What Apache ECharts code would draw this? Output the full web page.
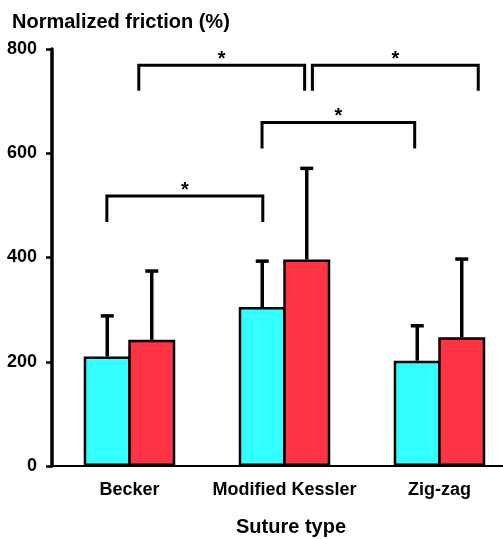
<!DOCTYPE html>
<html>
<head>
<meta charset="utf-8">
<script src="https://cdn.jsdelivr.net/npm/echarts@6/dist/echarts.min.js"></script>
<style>
  html, body { margin: 0; padding: 0; background: #fff; }
  #main { width: 503px; height: 539px; }
</style>
</head>
<body>
<div id="main"></div>
<script>
// categories and values
var categories = ['Becker', 'Modified Kessler', 'Zig-zag'];
var cyanMean = [210, 305, 202];
var cyanTop = [288, 393, 269]; // mean + SD
var redMean = [242, 396, 247];
var redTop = [374, 571, 397];
var yTicks = [0, 200, 400, 600, 800];

// significance brackets (x in category units, y in %)
var brFrom = [0.06, 0.855, -0.146, 1.18];
var brTo = [1.13, 1.84, 0.86, 2.25];
var brTop = [769, 659, 518, 769];
var brLeg = [720, 609, 468, 720];

var FONT = 'Liberation Sans, Arial, Helvetica, sans-serif';

function errData(mean, top) {
	return mean.map(function (v, i) { return [i, v, top[i]]; });
}

function errRender(offset) {
	return function (params, api) {
		var base = api.coord([api.value(0), api.value(1)]);
		var top = api.coord([api.value(0), api.value(2)]);
		var x = base[0] + offset;
		var st = { stroke: '#000', lineWidth: 3.5 };
		return {
			type: 'group',
			children: [
				{ type: 'line', shape: { x1: x, y1: base[1], x2: x, y2: top[1] }, style: st },
				{ type: 'line', shape: { x1: x - 6.5, y1: top[1], x2: x + 6.5, y2: top[1] }, style: st }
			]
		};
	};
}

var brData = brFrom.map(function (v, i) { return [v, brTo[i], brTop[i], brLeg[i]]; });

var chart = echarts.init(document.getElementById('main'));
chart.setOption({
	animation: false,
	title: [
		{ text: 'Normalized friction (%)', left: 7, top: 7,
		  textStyle: { fontFamily: FONT, fontSize: 20, fontWeight: 'bold', color: '#000' } },
		{ text: 'Suture type', left: 231, top: 512,
		  textStyle: { fontFamily: FONT, fontSize: 20, fontWeight: 'bold', color: '#000' } }
	],
	grid: { left: 52, top: 49, width: 465, height: 417, outerBoundsMode: 'none', containLabel: false },
	xAxis: [
		{
			type: 'category',
			data: categories,
			axisLine: { lineStyle: { color: '#000', width: 2 } },
			axisTick: { show: false },
			axisLabel: { interval: 0, hideOverlap: false, margin: 15, color: '#000', fontFamily: FONT, fontSize: 18, fontWeight: 'bold' }
		},
		{ type: 'value', min: -0.5, max: 2.5, show: false }
	],
	yAxis: {
		type: 'value',
		min: yTicks[0],
		max: yTicks[yTicks.length - 1],
		interval: 200,
		splitLine: { show: false },
		axisLine: { show: true, onZero: false, lineStyle: { color: '#000', width: 3.5 } },
		axisTick: { show: true, length: 6, lineStyle: { color: '#000', width: 2.5 } },
		axisLabel: { margin: 15, color: '#000', fontFamily: FONT, fontSize: 18, fontWeight: 'bold' }
	},
	series: [
		{
			type: 'custom', z: 1, xAxisIndex: 0,
			renderItem: errRender(-22.25),
			data: errData(cyanMean, cyanTop)
		},
		{
			type: 'custom', z: 1, xAxisIndex: 0,
			renderItem: errRender(22.25),
			data: errData(redMean, redTop)
		},
		{
			type: 'bar', z: 2, data: cyanMean, barWidth: 47, barGap: '-5.3%',
			itemStyle: { color: '#33ffff', borderColor: '#000', borderWidth: 2.5 }
		},
		{
			type: 'bar', z: 2, data: redMean, barWidth: 47, barGap: '-5.3%',
			itemStyle: { color: '#ff3344', borderColor: '#000', borderWidth: 2.5 }
		},
		{
			type: 'custom', z: 3, xAxisIndex: 1,
			data: brData,
			renderItem: function (params, api) {
				var a = api.coord([api.value(0), api.value(2)]);
				var b = api.coord([api.value(1), api.value(2)]);
				var leg = api.coord([api.value(0), api.value(3)]);
				return {
					type: 'group',
					children: [
						{
							type: 'polyline',
							shape: { points: [[a[0], leg[1]], [a[0], a[1]], [b[0], b[1]], [b[0], leg[1]]] },
							style: { stroke: '#000', lineWidth: 3, fill: null }
						},
						{
							type: 'text',
							style: {
								text: '*', x: (a[0] + b[0]) / 2, y: a[1] + 4,
								align: 'center', verticalAlign: 'bottom',
								font: 'bold 20px ' + FONT, fill: '#000'
							}
						}
					]
				};
			}
		}
	]
});
</script>
</body>
</html>
